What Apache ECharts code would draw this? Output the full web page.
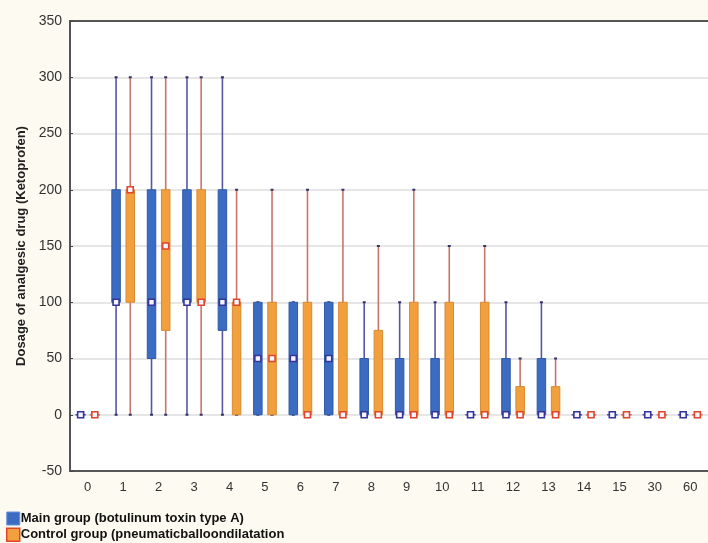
<!DOCTYPE html>
<html>
<head>
<meta charset="utf-8">
<script src="https://cdn.jsdelivr.net/npm/echarts@6/dist/echarts.min.js"></script>
<style>
  html, body { margin: 0; padding: 0; background: #fdfbf1; }
  #chart { width: 708px; height: 543px; }
</style>
</head>
<body>
<div id="chart"></div>
<script>
// days after treatment
const days = ['0', '1', '2', '3', '4', '5', '6', '7', '8', '9', '10', '11', '12', '13', '14', '15', '30', '60'];

// [min, q1, median, q3, max] per day
const mainGroup = [
  [0, 0, 0, 0, 0],
  [0, 100, 100, 200, 300],
  [0, 50, 100, 200, 300],
  [0, 100, 100, 200, 300],
  [0, 75, 100, 200, 300],
  [0, 0, 50, 100, 100],
  [0, 0, 50, 100, 100],
  [0, 0, 50, 100, 100],
  [0, 0, 0, 50, 100],
  [0, 0, 0, 50, 100],
  [0, 0, 0, 50, 100],
  [0, 0, 0, 0, 0],
  [0, 0, 0, 50, 100],
  [0, 0, 0, 50, 100],
  [0, 0, 0, 0, 0],
  [0, 0, 0, 0, 0],
  [0, 0, 0, 0, 0],
  [0, 0, 0, 0, 0]
];
const controlGroup = [
  [0, 0, 0, 0, 0],
  [0, 100, 200, 200, 300],
  [0, 75, 150, 200, 300],
  [0, 100, 100, 200, 300],
  [0, 0, 100, 100, 200],
  [0, 0, 50, 100, 200],
  [0, 0, 0, 100, 200],
  [0, 0, 0, 100, 200],
  [0, 0, 0, 75, 150],
  [0, 0, 0, 100, 200],
  [0, 0, 0, 100, 150],
  [0, 0, 0, 100, 150],
  [0, 0, 0, 25, 50],
  [0, 0, 0, 25, 50],
  [0, 0, 0, 0, 0],
  [0, 0, 0, 0, 0],
  [0, 0, 0, 0, 0],
  [0, 0, 0, 0, 0]
];

const mainName = 'Main group (botulinum toxin type A)';
const controlName = 'Control group (pneumaticballoondilatation';

const mainStyle = { fill: '#3b6cc2', stroke: '#2f5aa8', whisker: '#5656a6', median: '#34349a' };
const controlStyle = { fill: '#f2a03e', stroke: '#d98a2e', whisker: '#c8766a', median: '#e0442a' };

function toRows(list) {
  return list.map((d, i) => [i].concat(d));
}

function boxRenderer(side, st) {
  return function (params, api) {
    const cat = api.value(0);
    const band = api.size([1, 0])[0];
    const cx = api.coord([cat, 0])[0] + side * band * 0.2;
    const w = band * 0.24;
    const yMin = api.coord([cat, api.value(1)])[1];
    const yQ1 = api.coord([cat, api.value(2)])[1];
    const yMed = api.coord([cat, api.value(3)])[1];
    const yQ3 = api.coord([cat, api.value(4)])[1];
    const yMax = api.coord([cat, api.value(5)])[1];
    const m = 6;
    const children = [];
    if (yMin - yMax > 0.5) {
      children.push({
        type: 'line',
        shape: { x1: cx, y1: yMin, x2: cx, y2: yMax },
        style: { stroke: st.whisker, lineWidth: 1.6 }
      });
      children.push({
        type: 'line',
        shape: { x1: cx - 1.5, y1: yMax, x2: cx + 1.5, y2: yMax },
        style: { stroke: '#333366', lineWidth: 2 }
      });
      children.push({
        type: 'line',
        shape: { x1: cx - 1.5, y1: yMin, x2: cx + 1.5, y2: yMin },
        style: { stroke: '#333366', lineWidth: 2 }
      });
    }
    if (yQ1 - yQ3 > 0.5) {
      children.push({
        type: 'rect',
        shape: { x: cx - w / 2, y: yQ3, width: w, height: yQ1 - yQ3 },
        style: { fill: st.fill, stroke: st.stroke, lineWidth: 1 }
      });
    } else {
      children.push({
        type: 'line',
        shape: { x1: cx - w / 2 - 1, y1: yQ1, x2: cx + w / 2 + 1, y2: yQ1 },
        style: { stroke: st.whisker, lineWidth: 1.6 }
      });
    }
    children.push({
      type: 'rect',
      shape: { x: cx - m / 2, y: yMed - m / 2, width: m, height: m },
      style: { fill: '#f4f4ff', stroke: st.median, lineWidth: 1.6 }
    });
    return { type: 'group', children: children };
  };
}

const chart = echarts.init(document.getElementById('chart'));

chart.setOption({
  backgroundColor: '#fdfbf1',
  animation: false,
  textStyle: { fontFamily: 'Liberation Sans, Arial, sans-serif' },
  grid: {
    left: 70, top: 21, width: 647, height: 450,
    show: true, backgroundColor: '#ffffff', borderWidth: 0
  },
  legend: {
    orient: 'vertical', left: 6, bottom: 1, padding: 0,
    itemWidth: 13, itemHeight: 13, itemGap: 2,
    textStyle: { fontSize: 13, fontWeight: 'bold', color: '#111', padding: [0, 0, 0, -4] },
    data: [
      { name: mainName, icon: 'rect', itemStyle: { color: '#3b6cc2', borderColor: '#6a8fd8', borderWidth: 1 } },
      { name: controlName, icon: 'rect', itemStyle: { color: '#f2a03e', borderColor: '#e0442a', borderWidth: 1.5 } }
    ]
  },
  xAxis: [{
    type: 'category', data: days, position: 'bottom',
    axisLine: { onZero: false, lineStyle: { color: '#555', width: 2 } },
    axisTick: { inside: true, alignWithLabel: true, length: 4, lineStyle: { color: '#444' } },
    axisLabel: { fontSize: 13, color: '#333', margin: 10 },
    splitLine: { show: false }
  }, {
    type: 'category', data: days, position: 'top',
    axisLine: { onZero: false, lineStyle: { color: '#555', width: 2 } },
    axisTick: { inside: true, alignWithLabel: true, length: 4, lineStyle: { color: '#444' } },
    axisLabel: { show: false }
  }],
  yAxis: {
    type: 'value', min: -50, max: 350, interval: 50,
    name: 'Dosage of analgesic drug (Ketoprofen)',
    nameLocation: 'middle', nameGap: 42,
    nameTextStyle: { fontSize: 13, fontWeight: 'bold', color: '#222' },
    axisLine: { show: true, onZero: false, lineStyle: { color: '#555', width: 2 } },
    axisTick: { show: true, inside: true, length: 3, lineStyle: { color: '#444' } },
    axisLabel: { fontSize: 14, color: '#333', margin: 8 },
    splitLine: { lineStyle: { color: '#dedede', width: 1.5 } }
  },
  series: [{
    name: mainName, type: 'custom',
    itemStyle: { color: '#3b6cc2' },
    renderItem: boxRenderer(-1, mainStyle),
    encode: { x: 0, y: [1, 2, 3, 4, 5] },
    data: toRows(mainGroup)
  }, {
    name: controlName, type: 'custom',
    itemStyle: { color: '#f2a03e' },
    renderItem: boxRenderer(1, controlStyle),
    encode: { x: 0, y: [1, 2, 3, 4, 5] },
    data: toRows(controlGroup)
  }]
});
</script>
</body>
</html>
